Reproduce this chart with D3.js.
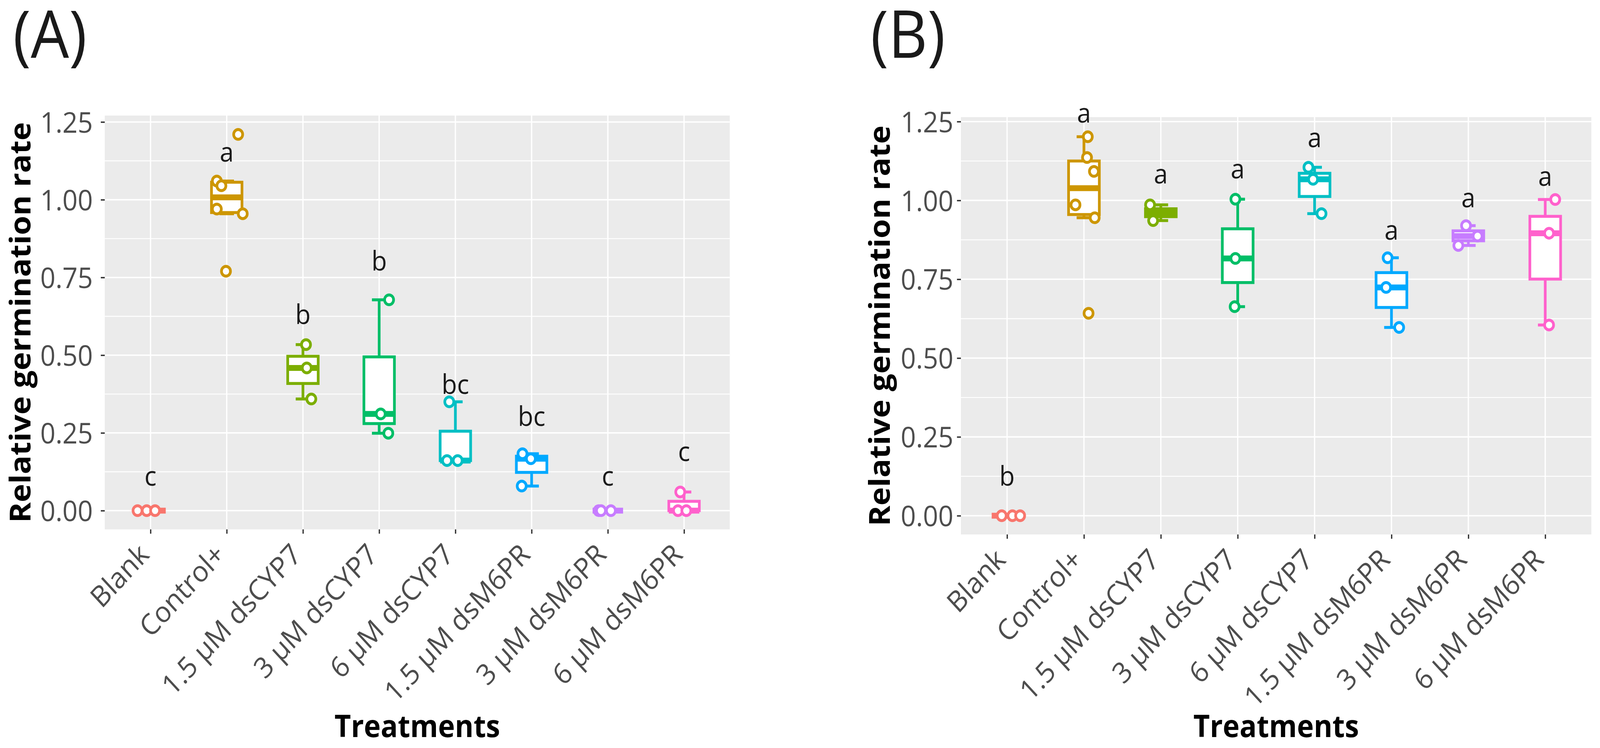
<!DOCTYPE html>
<html>
<head>
<meta charset="utf-8">
<script src="https://cdn.jsdelivr.net/npm/d3@7"></script>
<style>
  html, body { margin: 0; padding: 0; background: #fff; overflow: hidden; }
  svg { display: block; width: 100vw; height: 100vh; }
  text { font-family: "Open Sans", "Noto Sans", sans-serif; }
</style>
</head>
<body>
<div id="chart"></div>
<script>
// treatments on the x axis, same for both panels
var categories = ['Blank', 'Control+', '1.5 µM dsCYP7', '3 µM dsCYP7', '6 µM dsCYP7',
                  '1.5 µM dsM6PR', '3 µM dsM6PR', '6 µM dsM6PR'];
var colors = ['#F8766D', '#CD9600', '#7CAE00', '#00BE67', '#00BFC4', '#00A9FF', '#C77CFF', '#FF61CC'];
var yTicks = [0, 0.25, 0.5, 0.75, 1, 1.25];
var yMinor = [0.125, 0.375, 0.625, 0.875, 1.125];

// panel (A) - replicate germination rates
var valuesA = [
    [0, 0, 0],
    [1.21, 1.06, 1.045, 0.97, 0.955, 0.77],
    [0.534, 0.459, 0.359],
    [0.678, 0.311, 0.249],
    [0.35, 0.161, 0.161],
    [0.183, 0.167, 0.079],
    [0, 0, 0],
    [0.06, 0, 0]
];
// horizontal jitter of each point, in category steps
var jitterA = [
    [-0.17, -0.05, 0.06],
    [0.15, -0.13, -0.07, -0.13, 0.21, -0.01],
    [0.04, 0.05, 0.11],
    [0.13, 0.02, 0.12],
    [-0.08, -0.11, 0.03],
    [-0.12, -0.01, -0.13],
    [-0.12, -0.09, 0.04],
    [-0.05, -0.08, 0.03]
];
var lettersA = ['c', 'a', 'b', 'b', 'bc', 'bc', 'c', 'c'];
var letterYA = [0.08, 1.122, 0.6, 0.772, 0.376, 0.272, 0.08, 0.16];

// panel (B)
var valuesB = [
    [0, 0, 0],
    [1.202, 1.136, 1.092, 0.986, 0.945, 0.642],
    [0.986, 0.936],
    [1.004, 0.816, 0.663],
    [1.105, 1.067, 0.958],
    [0.818, 0.724, 0.597],
    [0.92, 0.887, 0.857],
    [1.003, 0.896, 0.605]
];
var jitterB = [
    [-0.07, 0.07, 0.17],
    [0.05, 0.04, 0.13, -0.11, 0.14, 0.06],
    [-0.14, -0.10],
    [-0.03, -0.03, -0.04],
    [-0.08, -0.02, 0.09],
    [-0.05, -0.07, 0.10],
    [-0.03, 0.12, -0.13],
    [0.13, 0.05, 0.05]
];
var lettersB = ['b', 'a', 'a', 'a', 'a', 'a', 'a', 'a'];
var letterYB = [0.095, 1.247, 1.054, 1.07, 1.169, 0.876, 0.978, 1.046];

var width = 4444, height = 1916;

// drawn in a 4444x1916 frame that is stretched to whatever the window is
var svg = d3.select('#chart').append('svg')
    .attr('viewBox', '0 0 ' + width + ' ' + height)
    .attr('preserveAspectRatio', 'none');

svg.append('rect').attr('width', width).attr('height', height).attr('fill', '#fff');

function boxStats(vals) {
    var s = vals.slice().sort(d3.ascending);
    var q1 = d3.quantile(s, 0.25), med = d3.quantile(s, 0.5), q3 = d3.quantile(s, 0.75);
    var iqr = q3 - q1;
    var lo = d3.min(s.filter(v => v >= q1 - 1.5 * iqr));
    var hi = d3.max(s.filter(v => v <= q3 + 1.5 * iqr));
    return { q1: q1, med: med, q3: q3, lo: lo, hi: hi };
}

function drawPanel(p) {
    var g = svg.append('g');

    var x = d3.scalePoint()
        .domain(categories)
        .range([p.left, p.right])
        .padding(0.6);
    var step = x.step();

    var y = d3.scaleLinear()
        .domain(p.yDomain)
        .range([p.bottom, p.top]);

    // panel background + grid
    g.append('rect')
        .attr('x', p.left).attr('y', p.top)
        .attr('width', p.right - p.left).attr('height', p.bottom - p.top)
        .attr('fill', '#EBEBEB');

    g.selectAll('.minor').data(yMinor).enter().append('line')
        .attr('x1', p.left).attr('x2', p.right)
        .attr('y1', d => y(d)).attr('y2', d => y(d))
        .attr('stroke', '#fff').attr('stroke-width', 2.4);

    g.selectAll('.major').data(yTicks).enter().append('line')
        .attr('x1', p.left).attr('x2', p.right)
        .attr('y1', d => y(d)).attr('y2', d => y(d))
        .attr('stroke', '#fff').attr('stroke-width', 3.6);

    g.selectAll('.vgrid').data(categories).enter().append('line')
        .attr('x1', d => x(d)).attr('x2', d => x(d))
        .attr('y1', p.top).attr('y2', p.bottom)
        .attr('stroke', '#fff').attr('stroke-width', 3.6);

    // axes
    var yAxis = g.append('g')
        .attr('transform', 'translate(' + p.left + ',0)')
        .call(d3.axisLeft(y).tickValues(yTicks).tickFormat(d3.format('.2f')).tickSize(11).tickPadding(p.tickPad));
    yAxis.select('.domain').remove();
    yAxis.selectAll('.tick line').attr('stroke', '#333333').attr('stroke-width', 3.6);
    yAxis.selectAll('.tick text')
        .attr('fill', '#4D4D4D')
        .style('font-size', '74px')
        .style('font-family', '"Open Sans", sans-serif')
        .attr('dy', '0.36em');

    var xAxis = g.append('g')
        .attr('transform', 'translate(0,' + p.bottom + ')')
        .call(d3.axisBottom(x).tickSize(11).tickFormat(''));
    xAxis.select('.domain').remove();
    xAxis.selectAll('.tick line').attr('stroke', '#333333').attr('stroke-width', 3.6);

    g.selectAll('.xlab').data(categories).enter().append('text')
        .attr('transform', d => 'translate(' + x(d) + ',' + (p.bottom + 11 + 58) + ') rotate(-45)')
        .attr('text-anchor', 'end')
        .attr('fill', '#4D4D4D')
        .style('font-size', '74px')
        .text(d => d);

    // axis titles
    g.append('text')
        .attr('x', (p.left + p.right) / 2)
        .attr('y', 1888)
        .attr('text-anchor', 'middle')
        .style('font-size', '79px')
        .style('font-weight', 'bold')
        .attr('fill', '#000')
        .text('Treatments');

    g.append('text')
        .attr('transform', 'translate(' + p.titleX + ',' + ((p.top + p.bottom) / 2) + ') rotate(-90)')
        .attr('text-anchor', 'middle')
        .attr('dy', '0.36em')
        .style('font-size', '80px')
        .style('font-weight', 'bold')
        .attr('fill', '#000')
        .text('Relative germination rate');

    // boxes
    var boxW = 0.4 * step, capW = 0.19 * step;
    categories.forEach(function(cat, i) {
        var st = boxStats(p.values[i]);
        var cx = x(cat), col = colors[i];
        var bg = g.append('g');

        // error bar whiskers
        bg.append('line')
            .attr('x1', cx).attr('x2', cx)
            .attr('y1', y(st.lo)).attr('y2', y(st.hi))
            .attr('stroke', col).attr('stroke-width', 7.5);
        [st.lo, st.hi].forEach(function(v) {
            bg.append('line')
                .attr('x1', cx - capW / 2).attr('x2', cx + capW / 2)
                .attr('y1', y(v)).attr('y2', y(v))
                .attr('stroke', col).attr('stroke-width', 7.5);
        });

        bg.append('rect')
            .attr('x', cx - boxW / 2).attr('width', boxW)
            .attr('y', y(st.q3)).attr('height', Math.max(0, y(st.q1) - y(st.q3)))
            .attr('fill', '#fff')
            .attr('stroke', col).attr('stroke-width', 7.5)
            .attr('stroke-linejoin', 'miter');

        bg.append('line')
            .attr('x1', cx - boxW / 2).attr('x2', cx + boxW / 2)
            .attr('y1', y(st.med)).attr('y2', y(st.med))
            .attr('stroke', col).attr('stroke-width', 15);

        // replicate points
        bg.selectAll('circle').data(p.values[i]).enter().append('circle')
            .attr('cx', (d, j) => cx + p.jitter[i][j] * step)
            .attr('cy', d => y(d))
            .attr('r', 12.5)
            .attr('fill', '#fff')
            .attr('stroke', col).attr('stroke-width', 7.5);

        // significance letter
        g.append('text')
            .attr('x', cx)
            .attr('y', y(p.letterY[i]))
            .attr('text-anchor', 'middle')
            .attr('fill', '#1A1A1A')
            .style('font-size', '70px')
            .text(p.letters[i]);
    });

    // panel tag
    svg.append('text')
        .attr('x', p.tagX).attr('y', 148)
        .attr('fill', '#1A1A1A')
        .style('font-size', '168px')
        .text(p.tag);
}

drawPanel({
    tag: '(A)', tagX: 36, titleX: 56, tickPad: 22,
    left: 291, right: 2027, top: 296, bottom: 1356,
    yDomain: [-0.0603, 1.2707],
    values: valuesA, jitter: jitterA, letters: lettersA, letterY: letterYA
});

drawPanel({
    tag: '(B)', tagX: 2418, titleX: 2443, tickPad: 10,
    left: 2669, right: 4420, top: 300, bottom: 1369,
    yDomain: [-0.0594, 1.2642],
    values: valuesB, jitter: jitterB, letters: lettersB, letterY: letterYB
});
</script>
</body>
</html>
